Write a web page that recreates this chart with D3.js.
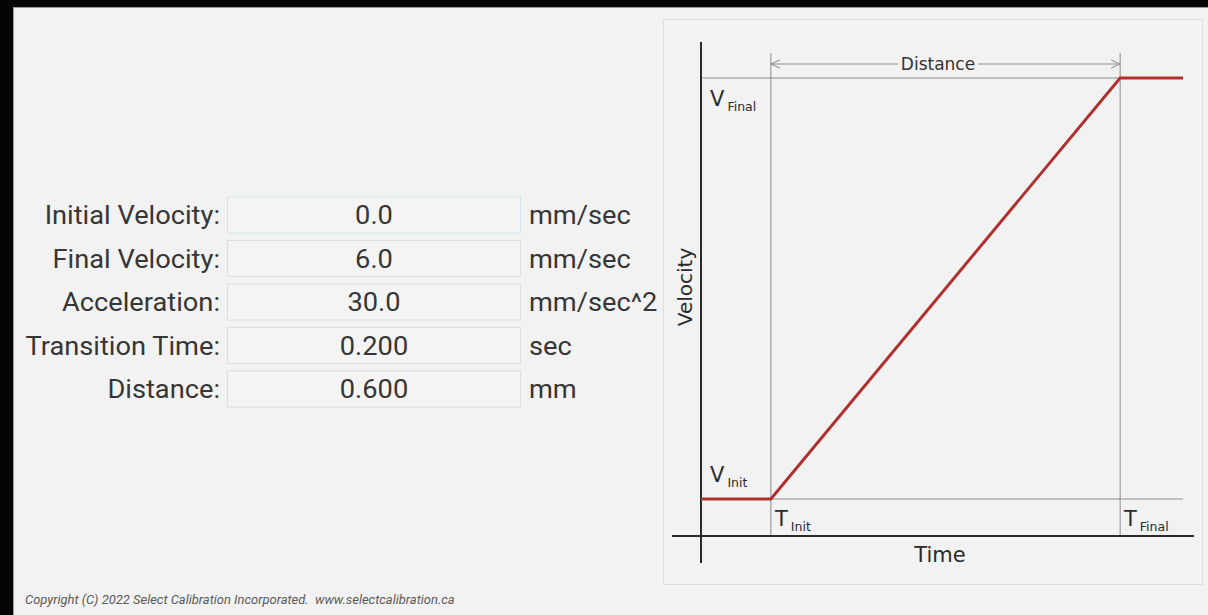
<!DOCTYPE html>
<html><head><meta charset="utf-8">
<script src="https://cdn.jsdelivr.net/npm/d3@7"></script>
<style>html,body{margin:0;padding:0;background:#f2f2f2;}svg{display:block;}</style>
</head><body>
<svg id="c" width="1208" height="615"></svg>
<script>
// ---- data ----
const fieldLabels = ["Initial Velocity:", "Final Velocity:", "Acceleration:", "Transition Time:", "Distance:"];
const fieldValues = ["0.0", "6.0", "30.0", "0.200", "0.600"];
const fieldUnits  = ["mm/sec", "mm/sec", "mm/sec^2", "sec", "mm"];
const profileTime = [0.0, 0.04, 0.24, 0.276];   // s (schematic, T_Init..T_Final = transition time 0.200)
const profileVel  = [0.0, 0.0, 6.0, 6.0];       // mm/sec
const tInit = 0.04, tFinal = 0.24;
const vInit = 0.0, vFinal = 6.0;
const copyright = "Copyright (C) 2022 Select Calibration Incorporated.\u00a0\u00a0www.selectcalibration.ca";

const svg = d3.select("#c");
// window frame
svg.append("rect").attr("x",0).attr("y",0).attr("width",1208).attr("height",615).attr("fill","#f2f2f2");
svg.append("rect").attr("x",0).attr("y",0).attr("width",1208).attr("height",7).attr("fill","#050505");
svg.append("rect").attr("x",0).attr("y",0).attr("width",13).attr("height",615).attr("fill","#050505");
svg.append("line").attr("x1",13.5).attr("x2",13.5).attr("y1",7).attr("y2",615).attr("stroke","#9a9a9a");
svg.append("line").attr("x1",13).attr("x2",1208).attr("y1",7.5).attr("y2",7.5).attr("stroke","#9a9a9a");

// ---- form ----
const sx = 1.09; // horizontal stretch of the source screenshot
const rowY = d3.scalePoint().domain(d3.range(fieldLabels.length)).range([215, 389]);
const rows = svg.append("g").selectAll("g").data(fieldLabels).join("g")
  .attr("transform",(d,i)=>`translate(0,${rowY(i)})`);
rows.append("rect").attr("x",227.5).attr("y",-18).attr("width",293).attr("height",36)
  .attr("fill","#f4f4f4").attr("stroke",(d,i)=>i===0?"#cde6ee":"#dedede").attr("stroke-width",1);
function formText(sel, px, anchor, fn){
  sel.append("text").attr("transform",`translate(${px},9) scale(${sx},1)`).attr("text-anchor",anchor)
    .attr("font-family","Roboto").attr("font-size",25).attr("fill","#363636").text(fn);
}
formText(rows, 220, "end", d=>d);
formText(rows, 374, "middle", (d,i)=>fieldValues[i]);
formText(rows, 529, "start", (d,i)=>fieldUnits[i]);

svg.append("text").attr("transform",`translate(25,604) scale(1.08,1)`).attr("font-family","Roboto").attr("font-style","italic")
  .attr("font-size",12).attr("fill","#5a5a5a").text(copyright);

// ---- chart panel ----
svg.append("rect").attr("x",663.5).attr("y",19.5).attr("width",539).attr("height",565)
  .attr("fill","#f2f2f2").attr("stroke","#dddddd");

const x = d3.scaleLinear().domain([0, 0.276]).range([701, 1183]);
const y = d3.scaleLinear().domain([0, 6]).range([499, 78]);
const g = svg.append("g");
const grid = "#8c8c8c";
const font = "DejaVu Sans";

// reference lines
g.append("line").attr("x1",x(0)).attr("x2",x(tFinal)).attr("y1",y(vFinal)).attr("y2",y(vFinal)).attr("stroke",grid);
g.append("line").attr("x1",x(0)).attr("x2",x(0.276)).attr("y1",y(vInit)).attr("y2",y(vInit)).attr("stroke",grid);
[tInit,tFinal].forEach(t=>{
  g.append("line").attr("x1",x(t)).attr("x2",x(t)).attr("y1",53).attr("y2",536).attr("stroke",grid);
});
// axes
g.append("line").attr("x1",672).attr("x2",1194).attr("y1",536).attr("y2",536).attr("stroke","#2a2a2a").attr("stroke-width",2);
g.append("line").attr("x1",x(0)).attr("x2",x(0)).attr("y1",42).attr("y2",563).attr("stroke","#2a2a2a").attr("stroke-width",2);

// distance dimension
const dy = 64;
g.append("text").attr("x",938).attr("y",dy+6).attr("text-anchor","middle")
  .attr("font-family",font).attr("font-size",17).attr("fill","#333").text("Distance");
g.append("line").attr("x1",x(tInit)).attr("x2",898).attr("y1",dy).attr("y2",dy).attr("stroke",grid);
g.append("line").attr("x1",978).attr("x2",x(tFinal)).attr("y1",dy).attr("y2",dy).attr("stroke",grid);
g.append("path").attr("d",`M${x(tInit)+9},${dy-4}L${x(tInit)},${dy}L${x(tInit)+9},${dy+4}`).attr("fill","none").attr("stroke",grid);
g.append("path").attr("d",`M${x(tFinal)-9},${dy-4}L${x(tFinal)},${dy}L${x(tFinal)-9},${dy+4}`).attr("fill","none").attr("stroke",grid);

// profile
const line = d3.line().x((d,i)=>x(profileTime[i])).y(d=>y(d));
g.append("path").datum(profileVel).attr("d",line).attr("fill","none").attr("stroke","#b0302e").attr("stroke-width",3);

// labels
function sublabel(px, py, main, sub){
  const t = g.append("text").attr("x",px).attr("y",py).attr("font-family",font).attr("fill","#2a2a2a");
  t.append("tspan").attr("font-size",21).text(main);
  t.append("tspan").attr("font-size",12.5).attr("dx",3).attr("dy",5).text(sub);
}
sublabel(710, 106, "V", "Final");
sublabel(710, 482, "V", "Init");
sublabel(775, 526, "T", "Init");
sublabel(1124, 526, "T", "Final");

g.append("text").attr("x",940).attr("y",562).attr("text-anchor","middle").attr("font-family",font)
  .attr("font-size",21).attr("fill","#2a2a2a").text("Time");
g.append("text").attr("transform","translate(692,287) rotate(-90)").attr("text-anchor","middle").attr("font-family",font)
  .attr("font-size",20).attr("fill","#2a2a2a").text("Velocity");
</script>
</body></html>
